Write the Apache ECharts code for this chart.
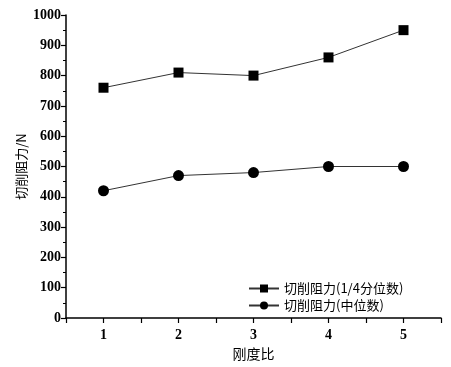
<!DOCTYPE html>
<html><head><meta charset="utf-8">
<script src="https://cdn.jsdelivr.net/npm/echarts@6/dist/echarts.min.js"></script>
<style>html,body{margin:0;padding:0;background:#fff}#c{width:451px;height:367px}</style>
</head><body><div id="c"></div>
<script>
const xValues = [1, 2, 3, 4, 5];
const quartileValues = [760, 810, 800, 860, 950];
const medianValues = [420, 470, 480, 500, 500];
const seriesNames = ['切削阻力(1/4分位数)', '切削阻力(中位数)'];
const xName = '刚度比';
const yName = '切削阻力/N';

const numFont = 'Liberation Serif';
const cjkFont = '"Noto Sans CJK SC", "Liberation Serif"';
const chart = echarts.init(document.getElementById('c'), null, {renderer: 'canvas'});
chart.setOption({
  animation: false,
  backgroundColor: '#fff',
  grid: {left: 66, right: 10, top: 15, bottom: 49},
  legend: {
    left: 243, top: 277, orient: 'vertical', itemGap: 4,
    itemWidth: 30, itemHeight: 10,
    textStyle: {fontFamily: cjkFont, fontSize: 13, color: '#000'},
    data: seriesNames
  },
  xAxis: {
    type: 'value', min: 0.5, max: 5.5, interval: 0.5,
    name: xName, nameLocation: 'middle', nameGap: 28,
    nameTextStyle: {fontFamily: cjkFont, fontSize: 14, color: '#000'},
    axisLine: {lineStyle: {color: '#000', width: 1.5}},
    axisTick: {show: true, inside: false, length: 5, lineStyle: {color: '#000', width: 1.2}},
    axisLabel: {
      fontFamily: numFont, fontWeight: 'bold', fontSize: 14, color: '#000', margin: 10,
      formatter: v => (Math.abs(v - Math.round(v)) < 1e-6 ? String(Math.round(v)) : '')
    },
    splitLine: {show: false}
  },
  yAxis: {
    type: 'value', min: 0, max: 1000, interval: 100,
    name: yName, nameLocation: 'middle', nameGap: 38, nameRotate: 90,
    nameMoveOverlap: false,
    nameTextStyle: {fontFamily: cjkFont, fontSize: 13, color: '#000'},
    axisLine: {show: true, lineStyle: {color: '#000', width: 1.5}},
    axisTick: {show: true, inside: false, length: 5, lineStyle: {color: '#000', width: 1.2}},
    minorTick: {show: true, splitNumber: 2, length: 3, lineStyle: {color: '#000', width: 1}},
    axisLabel: {fontFamily: numFont, fontWeight: 'bold', fontSize: 14, color: '#000', margin: 5,
      formatter: v => String(v)},
    splitLine: {show: false}
  },
  series: [
    {
      name: seriesNames[0], type: 'line',
      data: xValues.map((x, i) => [x, quartileValues[i]]),
      symbol: 'rect', symbolSize: 10,
      lineStyle: {color: '#333', width: 1},
      itemStyle: {color: '#000'}
    },
    {
      name: seriesNames[1], type: 'line',
      data: xValues.map((x, i) => [x, medianValues[i]]),
      symbol: 'circle', symbolSize: 11,
      lineStyle: {color: '#333', width: 1},
      itemStyle: {color: '#000'}
    }
  ]
});
</script></body></html>
